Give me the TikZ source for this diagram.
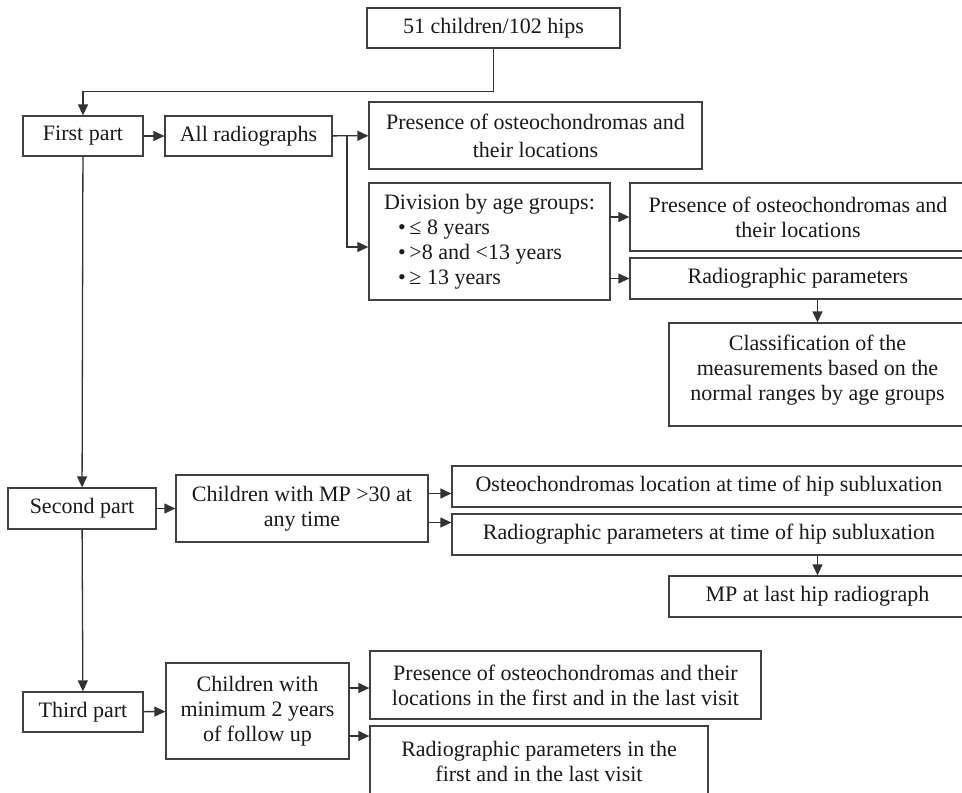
\documentclass[tikz,border=0pt]{standalone}
\usepackage{fontspec}
\setmainfont{Liberation Serif}
\usetikzlibrary{arrows.meta}
\tikzset{
  box/.style={draw=black!75, line width=1.3pt, inner sep=2pt, align=center,
    text=black!90, font=\fontsize{22}{25}\selectfont},
  arr/.style={-{Triangle[length=11pt,width=10pt]}, line width=1.3pt, draw=black!80},
}
\begin{document}
\begin{tikzpicture}[x=1pt,y=-1pt]
      \useasboundingbox (0,0) rectangle (962,793);
      % first part
      \node[box, minimum width=253pt, minimum height=40pt] (top) at (493.5,28) {51 children/102 hips};
      \node[box, minimum width=120pt, minimum height=40pt] (first) at (83,136) {First part};
      \node[box, minimum width=167pt, minimum height=40pt] (allrad) at (248.5,136) {All radiographs};
      \node[box, minimum width=333pt, minimum height=67pt, font=\fontsize{22}{28}\selectfont] (pres1) at (535.5,135.5)
        {Presence of osteochondromas and\\their locations};
      \node[box, minimum width=241pt, minimum height=117pt, align=left] (division) at (489.5,241.5)
        {Division by age groups:\\
         \hspace*{14pt}•\,≤ 8 years\\
         \hspace*{14pt}•\,>8 and <13 years\\
         \hspace*{14pt}•\,≥ 13 years};
      \node[box, minimum width=336pt, minimum height=68pt] (pres2) at (798,217)
        {Presence of osteochondromas and\\their locations};
      \node[box, minimum width=336pt, minimum height=41pt] (radpar) at (798,278.5) {Radiographic parameters};
      \node[box, minimum width=297pt, minimum height=103pt] (classif) at (817.5,374.5)
        {Classification of the\\measurements based on the\\normal ranges by age groups\\[-12pt]\mbox{}};
      % second part
      \node[box, minimum width=148pt, minimum height=41pt] (second) at (82,508.5) {Second part};
      \node[box, minimum width=252pt, minimum height=67pt] (mp30) at (302,508.5)
        {Children with MP >30 at\\any time};
      \node[box, minimum width=514pt, minimum height=41pt] (osteoloc) at (709,486.5)
        {Osteochondromas location at time of hip subluxation};
      \node[box, minimum width=514pt, minimum height=41pt] (radtime) at (709,534.5)
        {Radiographic parameters at time of hip subluxation};
      \node[box, minimum width=297pt, minimum height=41pt] (mplast) at (817.5,596.5) {MP at last hip radiograph};
      % third part
      \node[box, minimum width=120pt, minimum height=40pt] (third) at (83,712) {Third part};
      \node[box, minimum width=183pt, minimum height=96pt] (follow) at (257.5,711)
        {Children with\\minimum 2 years\\of follow up};
      \node[box, minimum width=391pt, minimum height=68pt] (pres3) at (565.5,685)
        {Presence of osteochondromas and their\\locations in the first and in the last visit};
      \node[box, minimum width=338pt, minimum height=71pt] (rad3) at (539,761.5)
        {Radiographic parameters in the\\first and in the last visit};
      \coordinate (br1) at (347,136);
      \coordinate (d1) at (347,247);
      \coordinate (m1) at ([yshift=15pt]mp30.east);
      \coordinate (m2) at ([yshift=-14pt]mp30.east);
      \coordinate (f1) at ([yshift=23pt]follow.east);
      \coordinate (f2) at ([yshift=-25pt]follow.east);
      \begin{scope}[arr]
        \draw (top.south) -- ++(0,43) -| (first.north);
        \draw (first) to (allrad);
        \draw (allrad) to (pres1);
        \draw (br1) |- (d1 -| division.west);
        \draw (division.east |- pres2) to (pres2);
        \draw (division.east |- radpar) to (radpar);
        \draw (classif.north |- radpar.south) to (classif.north);
        \draw (first) to (second);
        \draw (second) to (mp30);
        \draw (m1) to (m1 -| osteoloc.west);
        \draw (m2) to (m2 -| radtime.west);
        \draw (mplast.north |- radtime.south) to (mplast.north);
        \draw (second) to (third);
        \draw (third) to (follow);
        \draw (f1) to (f1 -| pres3.west);
        \draw (f2) to (f2 -| rad3.west);
      \end{scope}
    \end{tikzpicture}
\end{document}
